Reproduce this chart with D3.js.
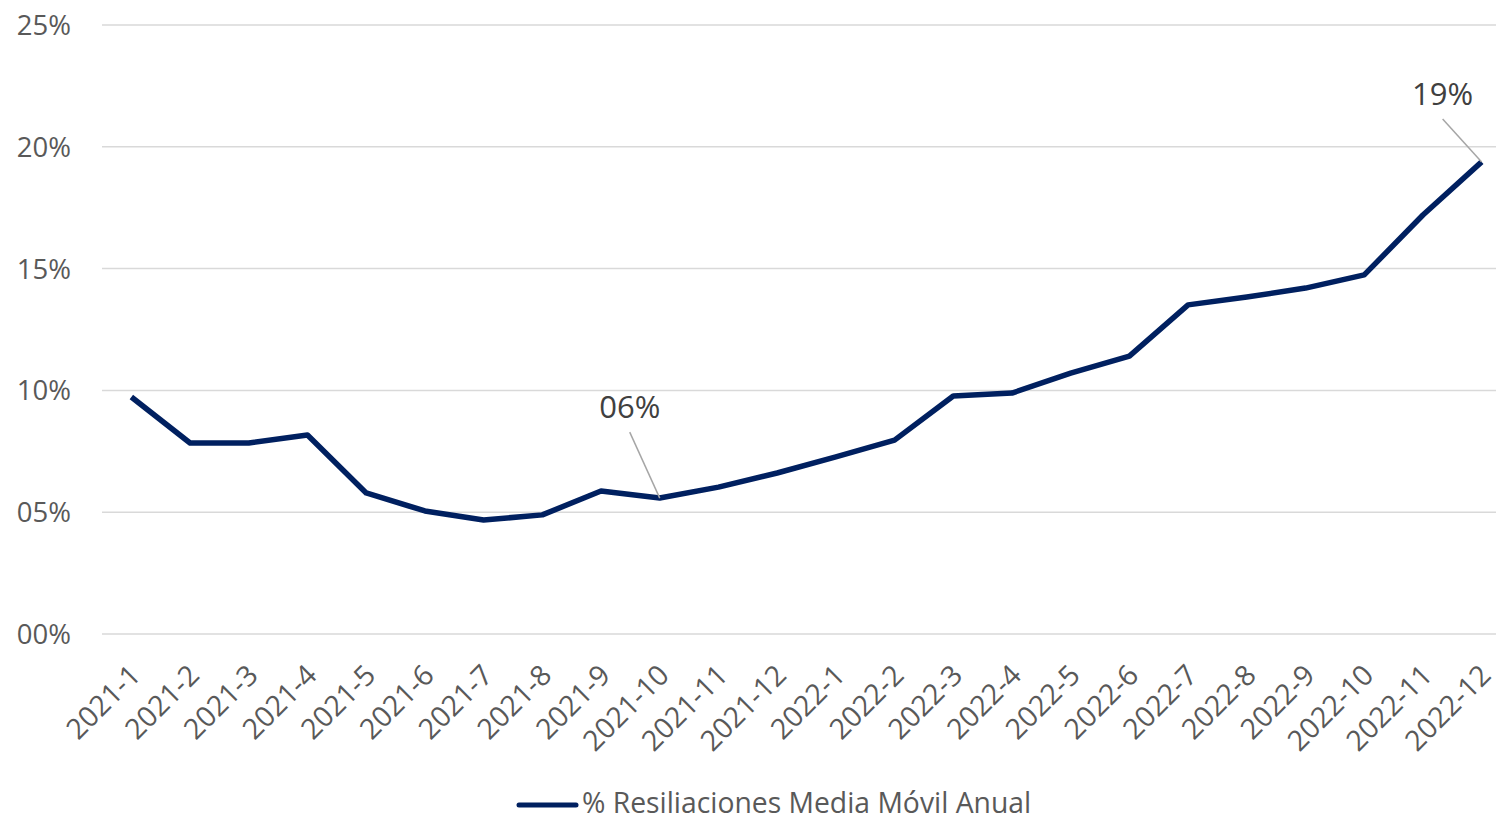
<!DOCTYPE html>
<html>
<head>
<meta charset="utf-8">
<style>
body { margin: 0; background: #fff; }
text { font-family: "Open Sans", sans-serif; fill: #595959; }
.grid line { stroke: #d9d9d9; stroke-width: 1.5; }
</style>
</head>
<body>
<svg width="1496" height="817"></svg>
<script src="https://d3js.org/d3.v7.min.js"></script>
<script>

var months = ["2021-1","2021-2","2021-3","2021-4","2021-5","2021-6","2021-7","2021-8","2021-9","2021-10","2021-11","2021-12",
              "2022-1","2022-2","2022-3","2022-4","2022-5","2022-6","2022-7","2022-8","2022-9","2022-10","2022-11","2022-12"];
var resiliaciones = [0.0973,0.0784,0.0784,0.0817,0.0579,0.0505,0.0468,0.0489,0.0587,0.0558,0.0603,0.0661,
                     0.0727,0.0796,0.0977,0.0989,0.1071,0.1141,0.1351,0.1383,0.1420,0.1474,0.1720,0.1938];
var yTicks = [0, 0.05, 0.10, 0.15, 0.20, 0.25];
var labelled = ["2021-10", "2022-12"];
var seriesName = "% Resiliaciones Media Móvil Anual";

var svg = d3.select("svg");

var x = d3.scaleBand()
    .domain(months)
    .range([102, 1511]);

var y = d3.scaleLinear()
    .domain([0, 0.25])
    .range([634, 25]);

var fmt = function(v) { return d3.format("02d")(Math.round(v * 100)) + "%"; };

// grid
svg.append("g")
    .attr("class", "grid")
    .selectAll("line")
    .data(yTicks)
    .enter().append("line")
      .attr("x1", 102)
      .attr("x2", 1511)
      .attr("y1", function(d) { return y(d); })
      .attr("y2", function(d) { return y(d); });

// y labels
svg.append("g")
    .selectAll("text")
    .data(yTicks)
    .enter().append("text")
      .attr("x", 71)
      .attr("y", function(d) { return y(d); })
      .attr("dy", "0.36em")
      .attr("text-anchor", "end")
      .style("font-size", "27.5px")
      .text(fmt);

// x labels
svg.append("g")
    .selectAll("text")
    .data(months)
    .enter().append("text")
      .attr("transform", function(d) {
        return "translate(" + (x(d) + x.bandwidth() / 2 + 11) + ",677) rotate(-45)";
      })
      .attr("text-anchor", "end")
      .style("font-size", "28.5px")
      .text(function(d) { return d; });

var cx = function(d, i) { return x(months[i]) + x.bandwidth() / 2; };

var line = d3.line()
    .x(function(d, i) { return cx(d, i); })
    .y(function(d) { return y(d); });

svg.append("path")
    .datum(resiliaciones)
    .attr("fill", "none")
    .attr("stroke", "#002060")
    .attr("stroke-width", 5.5)
    .attr("stroke-linejoin", "round")
    .attr("d", line);

// data labels with leader lines
labelled.forEach(function(m) {
  var i = months.indexOf(m),
      px = cx(null, i),
      py = y(resiliaciones[i]);
  var lx = m === "2022-12" ? px - 39 : px - 30,
      ly = m === "2022-12" ? py - 43 : py - 66;
  svg.append("line")
      .attr("x1", lx).attr("y1", ly)
      .attr("x2", px).attr("y2", py)
      .attr("stroke", "#a6a6a6")
      .attr("stroke-width", 1.5);
  svg.append("text")
      .attr("x", lx)
      .attr("y", ly - 14)
      .attr("text-anchor", "middle")
      .style("font-size", "31px")
      .style("fill", "#404040")
      .text(fmt(resiliaciones[i]));
});

// legend
var legend = svg.append("g");
legend.append("line")
    .attr("x1", 519).attr("x2", 576)
    .attr("y1", 805).attr("y2", 805)
    .attr("stroke", "#002060")
    .attr("stroke-linecap", "round")
    .attr("stroke-width", 5);
legend.append("text")
    .attr("x", 582)
    .attr("y", 813)
    .style("font-size", "28.3px")
    .text(seriesName);

</script>
</body>
</html>
